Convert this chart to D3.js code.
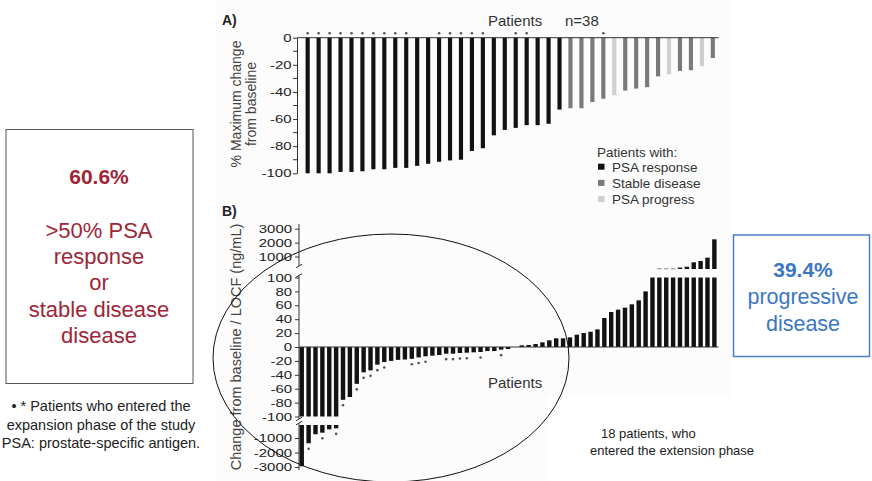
<!DOCTYPE html>
<html>
<head>
<meta charset="utf-8">
<script src="https://cdn.jsdelivr.net/npm/d3@7"></script>
<style>
  body { margin: 0; background: #fff; }
  svg { font-family: "Liberation Sans", Arial, sans-serif; display: block; }
</style>
</head>
<body>
<svg id="chart" width="872" height="481"></svg>
<script>
"use strict";

// Panel A: % maximum PSA change per patient (n=38)
const aPatients = d3.range(1, 39);
const aChange = [-100, -100, -100, -99, -99, -98.5, -97, -97, -96, -96, -94.5, -93, -91.5, -90.5, -90,
    -83.5, -81.5, -72, -68, -66.5, -64.5, -64.5, -63.5, -53, -52, -52, -47.5, -45, -42.5, -39,
    -37.5, -36.5, -28.5, -27, -24.5, -24, -21, -15];
const aStatus = ["R","R","R","R","R","R","R","R","R","R","R","R","R","R","R","R","R","R","R","R",
    "R","R","R","R","S","S","S","S","P","S","S","S","S","P","S","S","P","S"];
const aStarred = [1, 2, 3, 4, 5, 6, 7, 8, 9, 10, 13, 14, 15, 16, 17, 20, 21, 28];
const aTicks = [0, -20, -40, -60, -80, -100];
const aMinorTicks = [-10, -30, -50, -70, -90];

// Panel B: change from baseline / LOCF (ng/mL)
const bPatients = d3.range(1, 62);
const bChange = [-2950, -1360, -740, -630, -400, -330, -76, -72, -53, -36.5, -33.6, -25.4, -21.6, -20,
    -18.5, -18, -17, -15, -13.4, -12.5, -11.5, -9.6, -9.6, -8.6, -8.2, -7.7, -7.2, -5.8, -5.8, -3.8,
    -2.9, 0, 2.4, 2.9, 4.3, 6.7, 9.6, 12.5, 12.5, 13.9, 17.7, 20.1, 22, 25.4, 41.7, 50.4, 53.7, 56.6,
    61.4, 67.1, 80, 100, 150, 150, 150, 200, 265, 580, 675, 915, 2235];
const bStarred = [2, 4, 6, 7, 9, 10, 11, 12, 13, 17, 18, 19, 22, 23, 24, 25, 27, 30];
const bUpTicks = [3000, 2000, 1000];
const bMidTicks = [100, 80, 60, 40, 20, 0, -20, -40, -60, -80, -100];
const bLowTicks = [-1000, -2000, -3000];

const legendItems = [
    {key: "R", label: "PSA response"},
    {key: "S", label: "Stable disease"},
    {key: "P", label: "PSA progress"}
];
const statusColor = {R: "#121212", S: "#7a7a7a", P: "#cfcfcf"};
const axisColor = "#333";
const tickStretch = 1.3;   // the pasted figure is stretched sideways

const svg = d3.select("#chart");

// faint background of the pasted figure
svg.append("rect").attr("x", 216).attr("y", 0).attr("width", 515).attr("height", 481).attr("fill", "#fcfcfc");
svg.append("rect").attr("x", 548).attr("y", 396).attr("width", 183).attr("height", 85).attr("fill", "#fff");

function styleTicks(ax, gap) {
    ax.selectAll(".tick line").attr("stroke", axisColor);
    ax.selectAll(".tick text")
        .attr("font-size", 11.5)
        .attr("font-family", "Liberation Sans, Arial")
        .attr("fill", "#222")
        .attr("x", -gap / tickStretch)
        .attr("transform", `scale(${tickStretch},1)`);
}

// ---------- Panel A ----------
const xA = d3.scaleBand().domain(aPatients).range([302.2, 718.3]).paddingInner(0.62).paddingOuter(0.31);
const yA = d3.scaleLinear().domain([-100, 0]).range([173.3, 37.7]);
const gA = svg.append("g");

gA.selectAll(".barA")
    .data(aPatients)
    .enter().append("rect")
    .attr("class", "barA")
    .attr("x", d => xA(d))
    .attr("y", yA(0))
    .attr("width", xA.bandwidth())
    .attr("height", (d, i) => yA(aChange[i]) - yA(0))
    .attr("fill", (d, i) => statusColor[aStatus[i]]);

gA.append("line")
    .attr("x1", 297).attr("x2", 718.5)
    .attr("y1", yA(0)).attr("y2", yA(0))
    .attr("stroke", axisColor);

const axA = gA.append("g")
    .attr("transform", "translate(297,0)")
    .call(d3.axisLeft(yA).tickValues(aTicks).tickSize(4).tickSizeOuter(0).tickPadding(2).tickFormat(d => String(d)));
axA.select(".domain").attr("stroke", axisColor);
styleTicks(axA, 5.5);
gA.selectAll(".minorA")
    .data(aMinorTicks)
    .enter().append("line")
    .attr("x1", 293).attr("x2", 297)
    .attr("y1", d => yA(d)).attr("y2", d => yA(d))
    .attr("stroke", axisColor);

gA.selectAll(".starA")
    .data(aStarred)
    .enter().append("circle")
    .attr("cx", d => xA(d) + xA.bandwidth() / 2)
    .attr("cy", yA(0) - 4.5)
    .attr("r", 1.3)
    .attr("fill", "#555");

gA.append("text").attr("x", 222).attr("y", 25).attr("font-size", 14).attr("font-weight", "bold").attr("fill", "#222").text("A)");
gA.append("text").attr("x", 488).attr("y", 26).attr("font-size", 15).attr("fill", "#333").text("Patients");
gA.append("text").attr("x", 565).attr("y", 26).attr("font-size", 15).attr("fill", "#333").text("n=38");

const ylabA = gA.append("text")
    .attr("transform", "translate(241,104) rotate(-90)")
    .attr("text-anchor", "middle")
    .attr("font-size", 14).attr("fill", "#444");
ylabA.append("tspan").attr("x", 0).attr("dy", 0).text("% Maximum change");
ylabA.append("tspan").attr("x", 0).attr("dy", 14.5).text("from baseline");

// legend
const leg = gA.append("g").attr("transform", "translate(597,0)");
leg.append("text").attr("x", 0).attr("y", 157).attr("font-size", 13.5).attr("fill", "#333").text("Patients with:");
const legRows = leg.selectAll(".leg")
    .data(legendItems)
    .enter().append("g")
    .attr("transform", (d, i) => `translate(0,${166.7 + i * 16.2})`);
legRows.append("rect").attr("x", 1).attr("y", -3).attr("width", 6.5).attr("height", 6)
    .attr("fill", d => statusColor[d.key]);
legRows.append("text").attr("x", 15).attr("y", 4.8).attr("font-size", 13.5).attr("fill", "#333")
    .text(d => d.label);

// ---------- Panel B ----------
const xB = d3.scaleBand().domain(bPatients).range([298.3, 717.8]).paddingInner(0.36).paddingOuter(0.18);
const yUp = d3.scaleLinear().domain([100, 3300]).range([269, 224.5]);
const yMid = d3.scaleLinear().domain([-100, 100]).range([416.5, 277.5]);
const yLow = d3.scaleLinear().domain([-100, -3150]).range([425, 469.2]);
const gB = svg.append("g");
const clampMid = v => Math.max(-100, Math.min(100, v));

gB.selectAll(".barMid")
    .data(bPatients)
    .enter().append("rect")
    .attr("x", d => xB(d))
    .attr("y", (d, i) => Math.min(yMid(0), yMid(clampMid(bChange[i]))))
    .attr("width", xB.bandwidth())
    .attr("height", (d, i) => Math.abs(yMid(clampMid(bChange[i])) - yMid(0)))
    .attr("fill", "#121212");

const upIdx = bPatients.filter((d, i) => bChange[i] > 100);
gB.selectAll(".barUp")
    .data(upIdx)
    .enter().append("rect")
    .attr("x", d => xB(d))
    .attr("y", d => yUp(bChange[d - 1]))
    .attr("width", xB.bandwidth())
    .attr("height", d => Math.max(1, yUp(100) - yUp(bChange[d - 1])))
    .attr("fill", d => bChange[d - 1] < 180 ? "#8a8a8a" : "#121212");

const lowIdx = bPatients.filter((d, i) => bChange[i] < -100);
gB.selectAll(".barLow")
    .data(lowIdx)
    .enter().append("rect")
    .attr("x", d => xB(d))
    .attr("y", yLow(-100))
    .attr("width", xB.bandwidth())
    .attr("height", d => yLow(bChange[d - 1]) - yLow(-100))
    .attr("fill", "#121212");

gB.append("line")
    .attr("x1", 299).attr("x2", 718.5)
    .attr("y1", yMid(0)).attr("y2", yMid(0))
    .attr("stroke", axisColor);

// star markers below the bar ends
const barEnd = v => v < -100 ? yLow(v) : yMid(clampMid(v));
gB.selectAll(".starB")
    .data(bStarred)
    .enter().append("circle")
    .attr("cx", d => xB(d) + xB.bandwidth() / 2)
    .attr("cy", d => barEnd(bChange[d - 1]) + 5.5)
    .attr("r", 1.3)
    .attr("fill", "#555");

function segmentAxis(scale, ticks, y0, y1) {
    const ax = gB.append("g")
        .attr("transform", "translate(299,0)")
        .call(d3.axisLeft(scale).tickValues(ticks).tickSize(4).tickSizeOuter(0).tickPadding(3).tickFormat(d => String(d)));
    ax.select(".domain").remove();
    styleTicks(ax, 7);
    ax.append("line").attr("x1", 0).attr("x2", 0).attr("y1", y0).attr("y2", y1).attr("stroke", axisColor);
}
segmentAxis(yUp, bUpTicks, 224, 266);
segmentAxis(yMid, bMidTicks, 275.5, 419);
segmentAxis(yLow, bLowTicks, 423, 470);

// axis break marks
[266, 275.5, 419, 423].forEach(y => {
    gB.append("line")
        .attr("x1", 296).attr("x2", 302)
        .attr("y1", y + 1.8).attr("y2", y - 1.8)
        .attr("stroke", axisColor);
});

gB.append("text").attr("x", 222).attr("y", 216).attr("font-size", 14).attr("font-weight", "bold").attr("fill", "#222").text("B)");
gB.append("text").attr("x", 488).attr("y", 388).attr("font-size", 15).attr("fill", "#333").text("Patients");
gB.append("text")
    .attr("transform", "translate(241,347) rotate(-90)")
    .attr("text-anchor", "middle")
    .attr("font-size", 14.5).attr("fill", "#444")
    .text("Change from baseline / LOCF (ng/mL)");

// ellipse around the extension-phase patients
svg.append("ellipse")
    .attr("cx", 391).attr("cy", 358).attr("rx", 178).attr("ry", 124)
    .attr("fill", "none").attr("stroke", "#111").attr("stroke-width", 1);

svg.append("text").attr("x", 601).attr("y", 438).attr("font-size", 13).attr("fill", "#222").text("18 patients, who");
svg.append("text").attr("x", 590).attr("y", 455).attr("font-size", 13).attr("fill", "#222").text("entered the extension phase");

// ---------- side boxes ----------
const red = "#9e2638";
svg.append("rect").attr("x", 6).attr("y", 129.5).attr("width", 187).attr("height", 254)
    .attr("fill", "#fff").attr("stroke", "#555").attr("stroke-width", 1);
svg.append("text").attr("x", 99).attr("y", 183.5).attr("text-anchor", "middle")
    .attr("font-size", 21).attr("font-weight", "bold").attr("fill", red).text("60.6%");
const leftLines = [">50% PSA", "response", "or", "stable disease", "disease"];
svg.selectAll(".leftTxt")
    .data(leftLines)
    .enter().append("text")
    .attr("x", 99).attr("y", (d, i) => 237.5 + i * 26.4)
    .attr("text-anchor", "middle").attr("font-size", 22).attr("fill", red)
    .text(d => d);

const blue = "#3b77c2";
svg.append("rect").attr("x", 733.5).attr("y", 235).attr("width", 136).attr("height", 121.5)
    .attr("fill", "#fff").attr("stroke", "#4a80c3").attr("stroke-width", 1.5);
svg.append("text").attr("x", 803).attr("y", 276.5).attr("text-anchor", "middle")
    .attr("font-size", 21).attr("font-weight", "bold").attr("fill", blue).text("39.4%");
svg.append("text").attr("x", 803).attr("y", 304).attr("text-anchor", "middle")
    .attr("font-size", 21.5).attr("fill", blue).text("progressive");
svg.append("text").attr("x", 803).attr("y", 331).attr("text-anchor", "middle")
    .attr("font-size", 21.5).attr("fill", blue).text("disease");

// footnote
const notes = ["\u2022 * Patients who entered the", "expansion phase of the study", "PSA: prostate-specific antigen."];
svg.selectAll(".note")
    .data(notes)
    .enter().append("text")
    .attr("x", 101).attr("y", (d, i) => 411 + i * 18.5)
    .attr("text-anchor", "middle").attr("font-size", 14.5).attr("fill", "#222")
    .text(d => d);
</script>
</body>
</html>
